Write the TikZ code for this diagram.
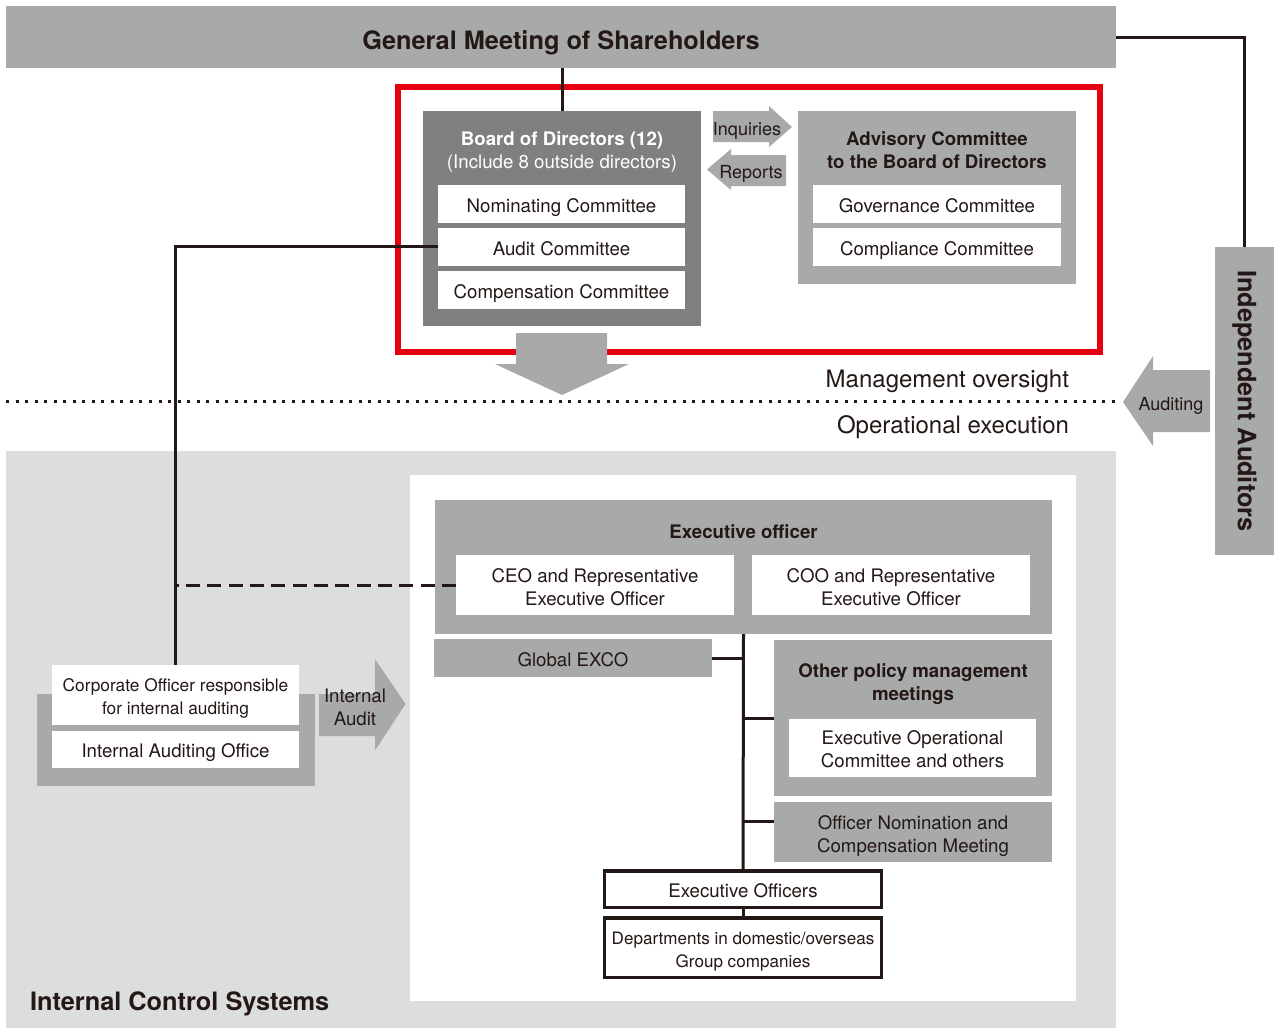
\documentclass[tikz,border=0pt]{standalone}
\usepackage{fontspec}
\setmainfont{TeX Gyre Heros}
\usetikzlibrary{calc}
\definecolor{ink}{HTML}{231815}
\definecolor{midgray}{HTML}{A8A9A9}
\definecolor{boardgray}{HTML}{808080}
\definecolor{lightband}{HTML}{DCDDDD}
\definecolor{redline}{HTML}{E60012}
\newcommand{\bx}[8][-3pt]{\node[#7, minimum width={(#5-#3)*0.75pt}, minimum height={(#6-#4)*0.75pt}] (#2) at ({(#3+#5)/2},{(#4+#6)/2}) {\raisebox{#1}[\height][\depth]{\begin{tabular}{@{}c@{}}#8\end{tabular}}};}
\tikzset{
  base/.style={inner sep=0pt, outer sep=0pt, text=ink, align=center, font=\fontsize{14}{17.25}\selectfont},
  graybox/.style={base, fill=midgray},
  boardbox/.style={base, fill=boardgray},
  whitebox/.style={base, fill=white},
  framebox/.style={base, fill=white, draw=ink, line width=2.6pt},
  conn/.style={draw=ink, line width=2.25pt},
  dashconn/.style={draw=ink, line width=2.25pt, dash pattern=on 10.5pt off 5.5pt},
  arrowshape/.style={fill=midgray},
  lbl/.style={base, font=\fontsize{13.5}{16.5}\selectfont},
}
\begin{document}
\begin{tikzpicture}[x=0.75pt,y=-0.75pt]
\useasboundingbox (0,0) rectangle (1274,1028);
% bands
\bx[-5.25pt]{gm}{6}{6}{1116}{68}{graybox, font=\fontsize{19}{22}\selectfont\bfseries}{General Meeting of Shareholders}
\bx{band}{6}{451}{1116}{1028}{base, fill=lightband}{}
\bx{inner}{410}{475}{1076}{1001}{base, fill=white}{}
\node[base, anchor=west, font=\fontsize{19}{22}\selectfont\bfseries] (ics) at (30,1004) {Internal Control Systems};
% independent auditors
\bx{ia}{1215}{247}{1274}{555}{graybox}{}
\node[base, rotate=-90, font=\fontsize{19}{22}\selectfont\bfseries] (iat) at (ia.center) {Independent Auditors};
\draw[conn] (gm.east) -| (ia.north);
% red frame
\draw[draw=redline, line width=4.5pt] (398,87) rectangle (1100,352);
% board
\bx{board}{423}{111}{701}{326}{boardbox}{}
\node[base, text=white] (boardt) at (562,152) {\textbf{Board of Directors (12)}\\(Include 8 outside directors)};
\bx{nom}{438}{185}{685}{222.5}{whitebox}{Nominating Committee}
\bx{aud}{438}{228}{685}{265.5}{whitebox}{Audit Committee}
\bx{comp}{438}{271}{685}{308.5}{whitebox}{Compensation Committee}
\draw[conn] (board.north) -- (board.north |- gm.south);
% advisory
\bx{adv}{798}{111}{1076}{284}{graybox}{}
\node[base, font=\fontsize{14}{17.25}\selectfont\bfseries] (advt) at (937,150.5) {Advisory Committee\\to the Board of Directors};
\bx{gov}{813}{185}{1061}{222.5}{whitebox}{Governance Committee}
\bx{compl}{813}{228}{1061}{265.5}{whitebox}{Compliance Committee}
% inquiries / reports arrows
\fill[arrowshape] (713,111) -- (769,111) -- (769,106) -- (792,127) -- (769,147) -- (769,142) -- (713,142) -- cycle;
\node[lbl] (inq) at (747,131) {Inquiries};
\fill[arrowshape] (786,155) -- (731,155) -- (731,149) -- (707,169.5) -- (731,190) -- (731,186) -- (786,186) -- cycle;
\node[lbl] (rep) at (751,174) {Reports};
% down arrow
\fill[arrowshape] (516,333) -- (607,333) -- (607,364) -- (629,364) -- (562,395) -- (495,364) -- (516,364) -- cycle;
% dotted divider
\draw[draw=ink, line width=2.25pt, dash pattern=on 2.25pt off 4.9pt] (6,401.5) -- (1120,401.5);
\node[base, anchor=east, font=\fontsize{18}{21}\selectfont] (mo) at (1069,381) {Management oversight};
\node[base, anchor=east, font=\fontsize{18}{21}\selectfont] (oe) at (1069,427) {Operational execution};
% auditing arrow
\fill[arrowshape] (1210,370) -- (1153,370) -- (1153,356) -- (1123,402) -- (1153,446) -- (1153,432) -- (1210,432) -- cycle;
\node[lbl] (audt) at (1171,406) {Auditing};
% executive officer
\bx{exec}{435}{500}{1052}{634}{graybox}{}
\node[base, font=\fontsize{14}{17.25}\selectfont\bfseries] (exect) at (743.5,531.5) {Executive officer};
\bx{ceo}{456}{555}{734}{615}{whitebox}{CEO and Representative\\Executive Officer}
\bx{coo}{752}{555}{1030}{615}{whitebox}{COO and Representative\\Executive Officer}
\bx{gex}{434}{639}{712}{677}{graybox}{Global EXCO}
\bx{pol}{774}{640}{1052}{796}{graybox}{}
\node[base, font=\fontsize{14}{17.25}\selectfont\bfseries] (polt) at (913,684.5) {Other policy management\\meetings};
\bx{eoc}{789}{718.5}{1036}{777}{whitebox}{Executive Operational\\Committee and others}
\bx{onm}{774}{802}{1052}{862}{graybox}{Officer Nomination and\\Compensation Meeting}
\bx{eo}{604.5}{871}{881.5}{907.5}{framebox}{Executive Officers}
\bx{dept}{604.5}{918}{881.5}{977.5}{framebox, font=\fontsize{12.8}{17.25}\selectfont}{Departments in domestic/overseas\\Group companies}
\coordinate (onmc) at (774,821);
\draw[conn] (exec.south) -- (eo.north);
\draw[conn] (gex.east) -- (gex.east -| exec.south);
\draw[conn] (pol.west) -- (pol.west -| exec.south);
\draw[conn] (onmc) -- (onmc -| exec.south);
\draw[conn] (eo.south) -- (dept.north);
% internal audit group
\bx{iag}{37}{694}{315}{786}{graybox}{}
\bx{corp}{52}{665}{299}{724.5}{whitebox, font=\fontsize{13}{17.25}\selectfont}{Corporate Officer responsible\\for internal auditing}
\bx{iao}{52}{730.5}{299}{768}{whitebox}{Internal Auditing Office}
\fill[arrowshape] (319,694) -- (375,694) -- (375,659) -- (405.5,704) -- (375,750.5) -- (375,736) -- (319,736) -- cycle;
\node[base, font=\fontsize{14}{17}\selectfont] (iat2) at (355,707) {Internal\\Audit};
\draw[conn] (aud.west) -| (corp.north);
\draw[dashconn] (ceo.west) -- (ceo.west -| corp.north);
\end{tikzpicture}
\end{document}
